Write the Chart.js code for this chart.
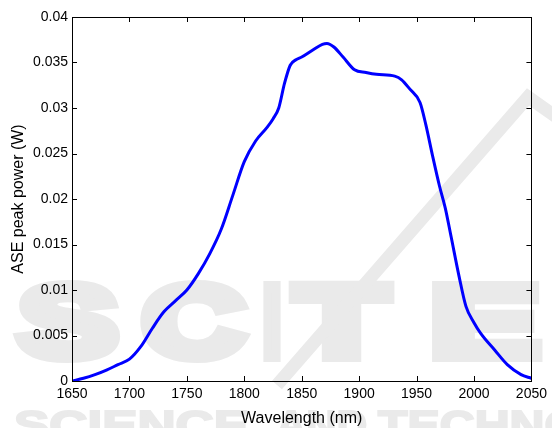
<!DOCTYPE html>
<html>
<head>
<meta charset="utf-8">
<script src="https://cdn.jsdelivr.net/npm/chart.js@4.4.1/dist/chart.umd.min.js"></script>
<style>
  html, body { margin: 0; padding: 0; background: #fff; }
  #wrap { width: 552px; height: 428px; position: relative; }
</style>
</head>
<body>
<div id="wrap"><canvas id="c" width="552" height="428"></canvas></div>
<script>
const wavelength = [1650,1660,1670,1680,1690,1700,1710,1720,1730,1740,1750,1760,1770,1780,1790,1800,1810,1820,1825,1830,1835,1840,1845,1850,1860,1868,1872,1878,1886,1896,1906,1915,1931,1937,1944,1953,1958,1964,1970,1975,1980,1987,1993,2000,2006,2018,2029,2041,2050];
const asePower = [0,0.0003,0.0007,0.0012,0.0018,0.0024,0.0038,0.0058,0.0076,0.0088,0.0100,0.0118,0.0140,0.0167,0.0204,0.0241,0.0264,0.0279,0.0288,0.0300,0.0327,0.0347,0.0353,0.0356,0.0364,0.0370,0.0371,0.0367,0.0356,0.0342,0.0339,0.0337,0.0335,0.0331,0.0321,0.0306,0.0282,0.0247,0.0214,0.0190,0.0159,0.0115,0.0082,0.0064,0.0052,0.0034,0.0018,0.0007,0.0003];
const xTicks = [1650,1700,1750,1800,1850,1900,1950,2000,2050];
const yTicks = [0,0.005,0.01,0.015,0.02,0.025,0.03,0.035,0.04];
const xTitle = 'Wavelength (nm)';
const yTitle = 'ASE peak power (W)';

const FONT = 'Liberation Sans, Arial, Helvetica, sans-serif';
const WM = '#eaeaea';

function fitText(ctx, str, x0, x1, baseline, size, lw) {
  ctx.font = 'bold ' + size + 'px ' + FONT;
  const w = ctx.measureText(str).width;
  ctx.save();
  const inner0 = x0 + lw / 2, inner1 = x1 - lw / 2;
  ctx.translate(inner0, baseline - lw / 2);
  ctx.scale((inner1 - inner0) / w, 1);
  ctx.fillText(str, 0, 0);
  if (lw > 0) { ctx.lineWidth = lw; ctx.lineJoin = 'miter'; ctx.strokeText(str, 0, 0); }
  ctx.restore();
}

const watermark = {
  id: 'watermark',
  beforeDraw(chart) {
    const ctx = chart.ctx;
    ctx.save();
    ctx.fillStyle = WM;
    ctx.strokeStyle = WM;
    ctx.textBaseline = 'alphabetic';
    ctx.textAlign = 'left';
    // large letters
    [['S',13,123],['C',137,250],['I',257,287],['T',290,393],['E',425,545]].forEach(([ch,a,b]) => fitText(ctx, ch, a, b, 362, 100, 12));
    // diagonal stroke
    ctx.lineWidth = 13;
    ctx.lineJoin = 'miter';
    ctx.beginPath();
    ctx.moveTo(277, 385);
    ctx.lineTo(528, 97);
    ctx.lineTo(575, 130);
    ctx.stroke();
    // small line of text
    fitText(ctx, 'SCIENCE', 13, 250, 440, 40, 2);
    fitText(ctx, 'AND', 275, 368, 440, 40, 2);
    fitText(ctx, 'TECHNOLOGY', 377, 720, 440, 40, 2);
    ctx.restore();
  }
};

const boxTicks = {
  id: 'boxTicks',
  afterDatasetsDraw(chart) {
    const {ctx, chartArea: a, scales} = chart;
    ctx.save();
    ctx.strokeStyle = '#000';
    ctx.lineWidth = 1;
    ctx.beginPath();
    const L = 5;
    xTicks.forEach(v => {
      const px = Math.round(scales.x.getPixelForValue(v)) + 0.5;
      ctx.moveTo(px, a.bottom); ctx.lineTo(px, a.bottom - L);
      ctx.moveTo(px, a.top); ctx.lineTo(px, a.top + L);
    });
    yTicks.forEach(v => {
      const py = Math.round(scales.y.getPixelForValue(v)) + 0.5;
      ctx.moveTo(a.left, py); ctx.lineTo(a.left + L, py);
      ctx.moveTo(a.right, py); ctx.lineTo(a.right - L, py);
    });
    ctx.stroke();
    ctx.strokeRect(Math.round(a.left) + 0.5, Math.round(a.top) + 0.5, Math.round(a.right - a.left), Math.round(a.bottom - a.top));
    ctx.restore();
  }
};

new Chart(document.getElementById('c'), {
  type: 'line',
  data: {
    datasets: [{
      data: wavelength.map((x, i) => ({x, y: asePower[i]})),
      borderColor: '#0000ff',
      borderWidth: 3,
      pointRadius: 0,
      cubicInterpolationMode: 'monotone',
      fill: false
    }]
  },
  options: {
    responsive: false,
    animation: false,
    devicePixelRatio: 1,
    layout: { padding: { top: 17, right: 18, left: 0, bottom: 0 } },
    plugins: { legend: { display: false }, tooltip: { enabled: false } },
    scales: {
      x: {
        type: 'linear', min: 1650, max: 2050,
        afterBuildTicks: s => { s.ticks = xTicks.map(v => ({value: v})); },
        afterFit: s => { s.height = 47; },
        grid: { display: false, drawTicks: false },
        border: { display: false },
        ticks: { color: '#000', font: { family: FONT, size: 14 }, padding: 5, maxRotation: 0, autoSkip: false,
                 callback: v => String(v) },
        title: { display: true, text: xTitle, color: '#000', font: { family: FONT, size: 16 }, padding: { top: 2, bottom: 0 } }
      },
      y: {
        type: 'linear', min: 0, max: 0.04,
        afterBuildTicks: s => { s.ticks = yTicks.map(v => ({value: v})); },
        afterFit: s => { s.width = 72; },
        grid: { display: false, drawTicks: false },
        border: { display: false },
        ticks: { color: '#000', font: { family: FONT, size: 14 }, padding: 4,
                 callback: v => String(Number(v.toFixed(4))) },
        title: { display: true, text: yTitle, color: '#000', font: { family: FONT, size: 16 }, padding: { top: 9, bottom: 0 } }
      }
    }
  },
  plugins: [watermark, boxTicks]
});
</script>
</body>
</html>
